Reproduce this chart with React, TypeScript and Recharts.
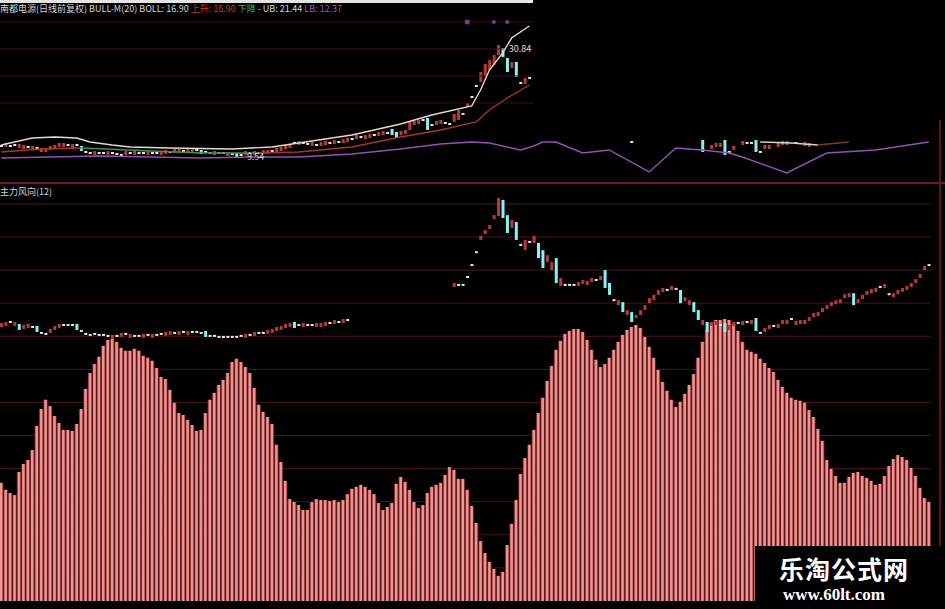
import { Bar, ComposedChart, Line, ReferenceDot, ReferenceLine, XAxis, YAxis } from "recharts";

// 主力风向(12) histogram, one value per trading day (grid step = 10)
const hist = [
  35.7, 33.6, 32.6, 32.0, 39.0, 41.4, 42.6, 45.6, 52.9, 58.0,
  60.8, 58.9, 55.9, 53.8, 51.7, 51.7, 51.4, 53.5, 58.0, 64.1,
  68.9, 71.6, 73.8, 77.1, 78.9, 79.2, 78.3, 76.5, 75.6, 75.6,
  76.2, 75.6, 74.1, 73.5, 72.6, 70.4, 67.7, 67.1, 63.8, 59.9,
  56.8, 56.2, 54.7, 53.2, 51.4, 51.7, 56.8, 60.8, 62.9, 65.3,
  66.8, 68.9, 72.2, 73.2, 72.2, 70.7, 68.9, 64.4, 59.3, 57.1,
  55.6, 53.5, 47.2, 42.0, 36.3, 30.8, 29.9, 29.0, 27.5, 27.5,
  29.9, 30.8, 30.5, 30.5, 30.2, 30.5, 29.9, 30.5, 32.3, 33.9,
  34.5, 35.1, 34.5, 33.6, 32.3, 29.6, 27.5, 28.4, 29.6, 35.4,
  37.5, 36.0, 33.6, 29.9, 28.1, 29.0, 32.6, 34.5, 35.1, 35.7,
  38.1, 40.5, 39.6, 36.9, 36.9, 33.6, 28.7, 23.6, 18.1, 14.5,
  11.8, 9.7, 7.6, 8.8, 16.9, 23.3, 30.5, 38.4, 43.2, 47.2,
  51.7, 56.8, 61.4, 66.5, 71.0, 75.9, 78.6, 80.7, 81.6, 82.2,
  82.2, 81.3, 78.9, 75.9, 72.9, 70.7, 71.6, 73.5, 75.9, 78.3,
  80.4, 81.9, 82.8, 83.4, 82.5, 79.8, 76.8, 73.5, 69.8, 66.2,
  63.5, 60.8, 58.6, 60.2, 62.6, 65.3, 68.6, 73.5, 78.3, 81.9,
  84.0, 84.9, 84.9, 85.2, 84.9, 83.7, 81.6, 78.3, 75.9, 75.3,
  74.7, 73.2, 71.9, 70.4, 69.2, 66.8, 64.7, 62.9, 61.4, 60.8,
  60.5, 59.9, 57.7, 55.6, 52.0, 48.4, 42.6, 39.9, 37.8, 35.7,
  35.7, 37.5, 38.7, 39.0, 37.8, 37.2, 36.3, 35.1, 35.4, 37.8,
  40.8, 42.9, 44.1, 43.5, 42.6, 40.2, 37.8, 34.2, 31.1, 29.9,
];

// small candles drawn in the lower panel: [open, close]
const lowerK: ([number, number] | null)[] = [
  [82.8, 84.0], [83.1, 84.3], [84.3, 84.3], [83.1, 84.3], [83.7, 81.9], [82.2, 83.4], [82.5, 83.7], [82.8, 82.8], [83.1, 81.3], [81.0, 81.0],
  [80.7, 80.7], [81.0, 82.2], [81.9, 83.1], [82.5, 83.7], [83.4, 83.4], [83.4, 83.4], [83.4, 83.4], [83.7, 81.9], [81.6, 81.6], [80.7, 80.7],
  [80.4, 80.4], [80.7, 80.7], [80.4, 80.4], [80.4, 80.4], [80.1, 80.1], [79.2, 80.4], [80.1, 80.1], [79.8, 81.0], [80.7, 80.7], [79.5, 80.7],
  [80.1, 80.1], [80.1, 80.1], [79.5, 80.7], [80.4, 80.4], [79.5, 80.7], [80.4, 80.4], [80.7, 80.7], [80.1, 81.3], [80.4, 81.6], [81.0, 81.0],
  [80.4, 81.6], [81.3, 81.3], [80.4, 81.6], [81.3, 81.3], [81.3, 81.3], [81.0, 81.0], [81.6, 79.8], [80.1, 80.1], [80.1, 80.1], [79.8, 79.8],
  [79.8, 79.8], [79.8, 79.8], [79.8, 79.8], [79.8, 79.8], [80.1, 80.1], [79.5, 80.7], [80.4, 80.4], [80.1, 81.3], [81.0, 81.0], [81.0, 81.0],
  [80.7, 81.9], [81.0, 82.2], [81.6, 82.8], [81.9, 83.1], [82.5, 83.7], [82.8, 84.0], [84.3, 82.5], [83.4, 83.4], [82.8, 84.0], [83.4, 83.4],
  [83.4, 83.4], [82.8, 84.0], [82.8, 84.0], [83.1, 84.3], [84.0, 84.0], [83.7, 84.9], [84.3, 84.3], [84.0, 85.2], [84.9, 84.9], null,
  null, null, null, null, null, null, null, null, null, null,
  null, null, null, null, null, null, null, null, null, null,
  null, null, [94.9, 96.1], [95.5, 95.5], [95.5, 95.5], [97.9, 97.9], [101.5, 101.5], [105.4, 105.4], [109.1, 110.3], [110.9, 112.1],
  [112.4, 113.6], [115.4, 116.6], [116.3, 121.8], [121.2, 115.7], [116.6, 111.2], [112.7, 115.1], [114.5, 109.1], [107.6, 107.6], [106.0, 109.1], [108.5, 108.5],
  [108.2, 110.3], [108.2, 103.6], [106.0, 100.6], [102.4, 104.5], [100.0, 102.4], [103.6, 96.1], [95.2, 97.6], [95.5, 95.5], [95.5, 95.5], [95.5, 95.5],
  [95.2, 96.4], [95.8, 97.0], [95.5, 96.7], [96.4, 97.6], [97.0, 97.0], [97.0, 98.2], [100.0, 94.6], [96.1, 92.5], [90.9, 90.9], [89.4, 90.9],
  [90.3, 87.3], [86.4, 87.9], [87.3, 84.3], [85.5, 86.4], [86.4, 87.9], [87.9, 89.4], [90.0, 91.5], [90.9, 92.5], [92.5, 94.0], [93.4, 94.6],
  [94.0, 94.0], [94.0, 95.2], [94.3, 94.3], [94.0, 90.0], [90.6, 91.8], [89.4, 90.9], [90.3, 87.3], [87.9, 84.9], [83.4, 84.9], [84.3, 81.3],
  [83.1, 84.3], [83.4, 84.6], [83.4, 83.4], [84.0, 81.3], [81.9, 83.4], [83.1, 84.3], [84.0, 84.0], [83.4, 84.6], [84.3, 84.3], [83.7, 84.9],
  [85.5, 81.6], [81.0, 81.0], [81.3, 82.5], [82.2, 83.4], [83.1, 83.1], [82.5, 83.7], [83.7, 84.9], [83.7, 84.9], [85.2, 85.2], [83.4, 84.6],
  [83.7, 84.9], [83.7, 84.9], [84.6, 85.8], [85.8, 87.0], [86.1, 87.3], [87.3, 88.5], [88.2, 89.4], [89.1, 90.3], [89.7, 90.9], [90.0, 91.2],
  [91.5, 92.7], [91.8, 93.0], [93.0, 89.4], [90.0, 91.2], [91.2, 92.5], [92.5, 93.7], [93.0, 94.3], [93.4, 94.6], [94.9, 94.9], [94.6, 95.8],
  [92.7, 92.7], [91.8, 93.0], [92.7, 94.0], [93.4, 94.6], [94.0, 95.2], [94.9, 96.1], [96.1, 97.3], [97.6, 98.8], [100.0, 101.2], [101.5, 101.5],
];

// price candles of the BOLL panel, first 120 days: [open, close]
const upperK: [number, number][] = [
  [10.72, 10.72], [10.53, 11.32], [10.72, 10.72], [10.92, 10.92], [10.33, 11.12], [10.13, 10.92], [10.53, 10.53], [9.93, 10.72], [10.33, 10.33], [9.54, 10.33],
  [9.54, 10.33], [9.93, 10.72], [10.13, 10.92], [10.53, 11.32], [10.53, 11.32], [10.92, 10.92], [10.33, 11.12], [10.92, 10.92], [10.72, 9.74], [9.54, 9.54],
  [9.34, 9.34], [8.95, 9.74], [9.34, 9.34], [9.34, 9.34], [8.95, 9.74], [9.34, 9.34], [9.15, 9.15], [8.95, 8.95], [8.95, 9.74], [9.34, 9.34],
  [8.95, 9.74], [9.34, 9.34], [9.34, 9.34], [8.95, 9.74], [9.34, 9.34], [9.34, 9.34], [8.95, 9.74], [9.15, 9.93], [9.54, 9.54], [9.34, 10.13],
  [9.34, 10.13], [9.74, 9.74], [9.34, 10.13], [9.54, 10.33], [9.93, 9.93], [9.93, 9.15], [9.54, 9.54], [9.34, 9.34], [8.95, 9.74], [9.34, 9.34],
  [9.34, 9.34], [8.75, 9.54], [9.15, 9.15], [9.34, 8.55], [8.95, 8.95], [8.95, 9.74], [9.34, 9.34], [8.95, 9.74], [9.34, 9.34], [9.15, 9.93],
  [9.15, 9.93], [9.74, 9.74], [9.54, 10.33], [9.74, 10.53], [10.13, 10.92], [10.33, 11.12], [11.32, 11.32], [10.92, 11.71], [11.32, 11.32], [11.12, 11.12],
  [10.72, 11.51], [10.92, 10.92], [10.72, 11.51], [10.92, 11.71], [11.32, 11.32], [11.12, 11.91], [11.51, 11.51], [11.32, 12.10], [11.51, 12.30], [12.10, 12.10],
  [12.10, 12.89], [12.50, 12.50], [12.10, 12.89], [12.30, 13.09], [12.89, 12.89], [12.70, 13.48], [12.89, 13.68], [13.29, 13.29], [14.08, 12.89], [13.48, 12.30],
  [12.89, 13.68], [13.09, 13.88], [13.88, 15.46], [14.87, 15.65], [15.06, 15.85], [15.85, 15.85], [16.25, 13.88], [14.87, 14.87], [14.87, 15.65], [15.06, 15.85],
  [15.26, 15.26], [15.06, 15.06], [15.46, 17.04], [15.85, 17.82], [17.04, 17.04], [18.42, 19.20], [20.39, 20.39], [22.56, 22.56], [23.35, 25.32], [24.53, 26.90],
  [25.71, 27.69], [26.70, 28.67], [28.67, 30.64], [30.05, 28.28], [28.08, 25.32], [26.11, 27.29], [27.29, 24.33], [23.15, 23.15], [22.95, 24.14], [24.14, 24.14],
];

// the few candles visible on the right of the upper strip: [day, open, close]
const upperKRight: [number, number, number][] = [
  [142, 11.51, 11.51], [158, 11.91, 9.54], [160, 10.13, 10.92], [161, 10.53, 11.32], [162, 10.53, 11.32],
  [163, 11.91, 8.95], [164, 9.54, 9.54], [165, 9.93, 10.72], [167, 10.92, 11.71], [168, 11.32, 11.32],
  [169, 11.32, 11.32], [170, 11.91, 9.54], [171, 9.54, 9.54], [172, 10.13, 10.92], [173, 10.13, 10.92],
  [175, 10.53, 11.32], [176, 10.92, 11.71], [177, 10.92, 11.71], [179, 11.32, 11.32], [181, 10.72, 11.51],
  [182, 10.53, 11.32],
];

// BOLL lines, [day, price]
const ubLine: [number, number][] = [
  [0, 10.92], [3, 11.51], [7, 12.3], [12, 12.5], [17, 12.3], [20, 11.51], [25, 10.92], [29, 10.53],
  [38, 10.33], [52, 10.13], [61, 10.53], [67, 11.32], [79, 12.89], [90, 15.06], [97, 16.84],
  [106, 18.61], [108, 21.77], [110, 25.71], [113, 29.07], [115, 32.02], [119, 34.39],
];
const ubTail: [number, number][] = [[171, 11.51], [178, 11.32], [184, 10.92]];
const midRise1: [number, number][] = [[0, 9.54], [9, 10.13], [18, 10.33]];
const midFall: [number, number][] = [[18, 10.33], [34, 9.74], [45, 9.34], [58, 9.34]];
const midRise2: [number, number][] = [
  [58, 9.34], [67, 9.54], [79, 10.53], [90, 12.5], [99, 13.88], [107, 15.46], [110, 17.82], [114, 20.19], [119, 22.75],
];
const midTail: [number, number][] = [[184, 10.92], [191, 11.51]];
const lbLine: [number, number][] = [
  [0, 8.36], [11, 8.55], [22, 8.75], [34, 8.55], [45, 8.36], [56, 8.55], [67, 8.55], [79, 9.15],
  [90, 10.13], [99, 11.12], [106, 11.51], [110, 11.32], [114, 10.53], [117, 9.93], [120, 10.72],
  [122, 11.51], [125, 11.51], [131, 9.34], [137, 9.93], [146, 5.6], [152, 10.33], [158, 9.93],
  [164, 9.34], [167, 8.55], [177, 5.4], [186, 9.34], [197, 9.93], [209, 11.51],
];

const upperGrid = [35.18, 29.86, 24.53, 19.2];
const lowerGrid = [10, 20, 30, 40, 50, 60, 70, 80, 90, 100, 110, 120];

const N = hist.length;
const at = (pts: [number, number][], i: number) => {
  const p = pts.find((q) => q[0] === i);
  return p ? p[1] : null;
};
const range = (o: number | null, c: number | null) =>
  o == null || c == null ? null : [Math.min(o, c), Math.max(o, c)];

const table = hist.map((h, i) => {
  const right = upperKRight.find((q) => q[0] === i);
  const uo = i < upperK.length ? upperK[i][0] : right ? right[1] : null;
  const uc = i < upperK.length ? upperK[i][1] : right ? right[2] : null;
  const lk = lowerK[i];
  return {
    i,
    h,
    lo: lk ? lk[0] : null,
    lc: lk ? lk[1] : null,
    lk: lk ? range(lk[0], lk[1]) : null,
    uo,
    uc,
    uk: range(uo, uc),
    ub: at(ubLine, i),
    ubT: at(ubTail, i),
    m1: at(midRise1, i),
    m2: at(midFall, i),
    m3: at(midRise2, i),
    mT: at(midTail, i),
    lb: at(lbLine, i),
  };
});

const RED = "#b63b38";
const CYAN = "#86f2f2";
const WHITE = "#e6e6e6";

function candleShape(ok: string, ck: string) {
  return (props: any) => {
    const { x, y, width, height, payload } = props;
    const o = payload[ok];
    const c = payload[ck];
    if (o == null || c == null) return <g />;
    const color = c > o ? RED : c < o ? CYAN : WHITE;
    const h = Math.max(height, 2);
    const top = height < 2 ? y + height / 2 - 1 : y;
    return <rect x={x + width / 2 - 1.5} y={top} width={3} height={h} fill={color} />;
  };
}

function HistBar(props: any) {
  const { x, y, width, height } = props;
  if (!height) return <g />;
  const cx = x + width / 2;
  return (
    <g>
      <rect x={x} y={y} width={width} height={height} fill="#72201f" />
      <rect x={cx - 1.3} y={y} width={2.6} height={height} fill="#ec9494" />
    </g>
  );
}

const xDomain: [number, number] = [-0.5, N - 0.5];
const lineProps = { dot: false, connectNulls: true, isAnimationActive: false, strokeWidth: 1.4 } as const;
const lowerMargin = { top: 0, right: 14, bottom: 8, left: -1 };

export default function App() {
  return (
    <div
      style={{
        position: "fixed",
        left: 0,
        top: 0,
        width: 945,
        height: 609,
        background: "#000",
        overflow: "hidden",
        fontFamily: "'Noto Sans CJK SC', 'Noto Sans', sans-serif",
      }}
    >
      <div style={{ position: "absolute", left: 0, top: 0 }}>
        <ComposedChart width={945} height={182} data={table} margin={{ top: 0, right: 14, bottom: 0, left: -1 }}>
          <XAxis type="number" dataKey="i" domain={xDomain} allowDataOverflow hide />
          <YAxis type="number" domain={[3.62, 39.52]} allowDataOverflow hide />
          {upperGrid.map((g) => (
            <ReferenceLine
              key={g}
              segment={[{ x: -0.5, y: g }, { x: 120, y: g }]}
              stroke="#3e0e13"
              strokeWidth={1}
            />
          ))}
          <Line dataKey="lb" stroke="#9350b6" {...lineProps} />
          <Line dataKey="ub" stroke="#e8d8cf" {...lineProps} />
          <Line dataKey="ubT" stroke="#d9d0c8" {...lineProps} />
          <Line dataKey="m1" stroke="#a8352f" {...lineProps} />
          <Line dataKey="m2" stroke="#3d8f55" {...lineProps} />
          <Line dataKey="m3" stroke="#a8352f" {...lineProps} />
          <Line dataKey="mT" stroke="#7a3a34" {...lineProps} />
          <Bar dataKey="uk" barSize={3} shape={candleShape("uo", "uc")} isAnimationActive={false} />
          <ReferenceDot x={113} y={29.86} r={1} fill="none" stroke="none"
            label={{ value: "30.84", position: "right", fill: "#dcdcdc", fontSize: 9 }} />
          <ReferenceDot x={54} y={8.55} r={1} fill="none" stroke="none"
            label={{ value: "9.54", position: "right", fill: "#dcdcdc", fontSize: 9 }} />
          <ReferenceDot x={105} y={35.18} r={2.5} fill="#7d3a9c" stroke="none" />
          <ReferenceDot x={111} y={35.18} r={2} fill="#7d3a9c" stroke="none" />
          <ReferenceDot x={114} y={35.18} r={2} fill="#7d3a9c" stroke="none" />
        </ComposedChart>
      </div>

      {/* grid of the lower panel, kept behind the histogram */}
      <div style={{ position: "absolute", left: 0, top: 184 }}>
        <ComposedChart width={945} height={425} data={table} margin={lowerMargin}>
          <XAxis type="number" dataKey="i" domain={xDomain} allowDataOverflow hide />
          <YAxis type="number" domain={[0, 126]} allowDataOverflow hide />
          {lowerGrid.map((g) => (
            <ReferenceLine key={g} y={g} stroke="#511419" strokeWidth={1} />
          ))}
        </ComposedChart>
      </div>

      <div style={{ position: "absolute", left: 0, top: 184 }}>
        <ComposedChart width={945} height={425} data={table} margin={lowerMargin}>
          <XAxis xAxisId="h" type="number" dataKey="i" domain={xDomain} allowDataOverflow hide />
          <XAxis xAxisId="k" type="number" dataKey="i" domain={xDomain} allowDataOverflow hide />
          <YAxis type="number" domain={[0, 126]} allowDataOverflow hide />
          <Bar xAxisId="h" dataKey="h" barSize={4.43} shape={<HistBar />} isAnimationActive={false} />
          <Bar xAxisId="k" dataKey="lk" barSize={3} shape={candleShape("lo", "lc")} isAnimationActive={false} />
        </ComposedChart>
      </div>

      {/* frame pieces of the screenshot */}
      <div style={{ position: "absolute", left: 0, top: 0, width: 533, height: 3, background: "#e4e4e4" }} />
      <div style={{ position: "absolute", left: 0, top: 182, width: 945, height: 2, background: "#6e1a1f" }} />
      <div style={{ position: "absolute", left: 939, top: 120, width: 2, height: 489, background: "#5c1519" }} />

      <div
        style={{
          position: "absolute",
          left: 0,
          top: 3,
          fontSize: 9,
          lineHeight: "11px",
          color: "#d6d6d6",
          whiteSpace: "nowrap",
        }}
      >
        南都电源(日线前复权) BULL-M(20) BOLL: 16.90{" "}
        <span style={{ color: "#c03a3a" }}>上升: 16.90</span>{" "}
        <span style={{ color: "#3fae5a" }}>下降</span> - UB: 21.44{" "}
        <span style={{ color: "#a050c8" }}>LB: 12.37</span>
      </div>
      <div
        style={{
          position: "absolute",
          left: 0,
          top: 186,
          fontSize: 9,
          lineHeight: "11px",
          color: "#d0d0d0",
          whiteSpace: "nowrap",
        }}
      >
        主力风向(12)
      </div>

      <div style={{ position: "absolute", left: 755, top: 546, width: 190, height: 63, background: "#000" }}>
        <div
          style={{
            position: "absolute",
            left: 24,
            top: 8,
            fontSize: 25,
            lineHeight: "28px",
            fontWeight: 700,
            color: "#fff",
            letterSpacing: 1,
            whiteSpace: "nowrap",
          }}
        >
          乐淘公式网
        </div>
        <div
          style={{
            position: "absolute",
            left: 28,
            top: 40,
            fontSize: 17,
            lineHeight: "18px",
            fontWeight: 700,
            color: "#fff",
            fontFamily: "'Liberation Serif', serif",
            whiteSpace: "nowrap",
          }}
        >
          www.60lt.com
        </div>
      </div>
    </div>
  );
}
